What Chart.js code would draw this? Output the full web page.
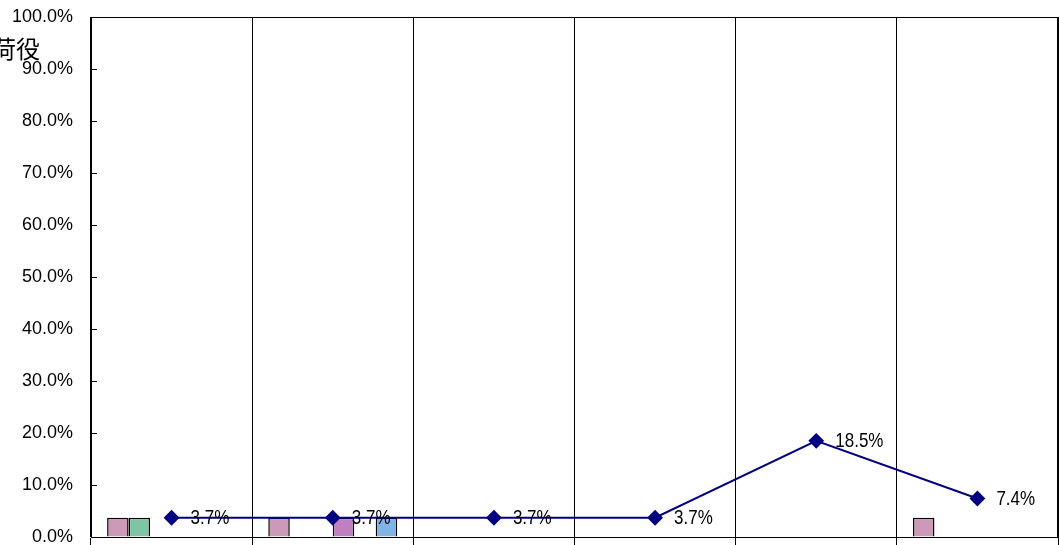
<!DOCTYPE html>
<html>
<head>
<meta charset="utf-8">
<script src="https://cdn.jsdelivr.net/npm/chart.js@4"></script>
<style>
html,body{margin:0;padding:0;background:#fff;}
#c{display:block;}
</style>
</head>
<body>
<canvas id="c" width="1060" height="545"></canvas>
<script>
// categories (x labels are cut off in the reference)
const categories = ['区分1', '区分2', '区分3', '区分4', '区分5', '区分6'];
// bar series values (fractions)
const seriesA = [0.037, 0.037, 0, 0, 0, 0.037];   // pink
const seriesB = [0.037, 0, 0, 0, 0, 0];           // green
const seriesC = [0, 0, 0, 0, 0, 0];
const seriesD = [0, 0.037, 0, 0, 0, 0];           // purple
const seriesE = [0, 0, 0, 0, 0, 0];
const seriesF = [0, 0.037, 0, 0, 0, 0];           // blue
// line series
const lineValues = [0.037, 0.037, 0.037, 0.037, 0.185, 0.074];
const lineLabels = ['3.7%', '3.7%', '3.7%', '3.7%', '18.5%', '7.4%'];
// title text
const titleText = '荷役';

const barColors = ['#CC99B8', '#80C4A6', '#99CCFF', '#C080C0', '#FFCC99', '#80B4E4'];
const barSeries = [seriesA, seriesB, seriesC, seriesD, seriesE, seriesF];

const target = { left: 91, right: 1058, top: 17, bottom: 537 };

const datasets = [{
  type: 'line',
  label: 'line',
  data: lineValues,
  borderColor: '#000080',
  backgroundColor: '#000080',
  borderWidth: 2,
  pointStyle: 'rectRot',
  pointRadius: 6.5,
  pointHoverRadius: 6.5,
  tension: 0,
  order: 0
}];
barSeries.forEach((s, i) => {
  datasets.push({
    type: 'bar',
    label: 'S' + (i + 1),
    data: s,
    backgroundColor: barColors[i],
    borderColor: '#000000',
    borderWidth: 1.5,
    categoryPercentage: 0.8,
    barPercentage: 1.0,
    order: 1
  });
});

const decor = {
  id: 'decor',
  afterDraw(chart) {
    const ctx = chart.ctx;
    const a = chart.chartArea;
    const y = chart.scales.y;
    ctx.save();
    // plot border
    ctx.strokeStyle = '#000';
    ctx.lineWidth = 1;
    ctx.strokeRect(Math.round(a.left) + 0.5, Math.round(a.top) + 0.5,
                   Math.round(a.right - a.left) - 1, Math.round(a.bottom - a.top));
    // inward ticks on y axis
    y.ticks.forEach(t => {
      const py = Math.round(y.getPixelForValue(t.value)) + 0.5;
      ctx.beginPath();
      ctx.moveTo(a.left, py);
      ctx.lineTo(a.left + 6, py);
      ctx.stroke();
    });
    // data labels for line (slightly tall text, as in the reference)
    const meta = chart.getDatasetMeta(0);
    ctx.fillStyle = '#000';
    ctx.font = '17px "Liberation Sans", Arial, sans-serif';
    ctx.textAlign = 'left';
    ctx.textBaseline = 'middle';
    const sy = 1.2;
    meta.data.forEach((pt, i) => {
      ctx.save();
      ctx.translate(pt.x + 19, pt.y + 1);
      ctx.scale(1, sy);
      ctx.fillText(lineLabels[i], 0, 0);
      ctx.restore();
    });
    // title (cut off at left)
    ctx.font = '24px "Noto Sans CJK JP", sans-serif';
    ctx.textAlign = 'right';
    ctx.fillText(titleText, 40, 49);
    ctx.restore();
  }
};

const pad = { left: 0, right: 2, top: 17, bottom: 0 };

const chart = new Chart(document.getElementById('c'), {
  data: { labels: categories, datasets },
  options: {
    responsive: false,
    animation: false,
    devicePixelRatio: 1,
    layout: { padding: pad, autoPadding: false },
    plugins: { legend: { display: false }, tooltip: { enabled: false }, title: { display: false } },
    scales: {
      x: {
        type: 'category',
        offset: true,
        grid: { offset: true, color: '#000', lineWidth: 1, drawOnChartArea: true, drawTicks: true, tickLength: 8 },
        border: { color: '#000', width: 1 },
        ticks: { display: false },
        afterFit(s) { s.height = 8; s.paddingLeft = 0; s.paddingRight = 0; s.paddingTop = 0; s.paddingBottom = 0; }
      },
      y: {
        min: 0, max: 1,
        grid: { drawOnChartArea: false, drawTicks: false },
        border: { color: '#000', width: 1 },
        ticks: {
          stepSize: 0.1,
          padding: 18,
          color: '#000',
          font: { family: '"Liberation Sans", Arial, sans-serif', size: 18 },
          callback: v => (v * 100).toFixed(1) + '%'
        },
        afterFit(s) { s.width = 91; s.paddingTop = 0; s.paddingBottom = 0; s.paddingLeft = 0; s.paddingRight = 0; }
      }
    }
  },
  plugins: [decor]
});

// nudge layout padding so the plot area lands where the reference has it
for (let k = 0; k < 4; k++) {
  const a = chart.chartArea;
  const dT = target.top - a.top;
  const dB = a.bottom - target.bottom;
  const dL = target.left - a.left;
  const dR = a.right - target.right;
  if (Math.abs(dT) < 0.5 && Math.abs(dB) < 0.5 && Math.abs(dL) < 0.5 && Math.abs(dR) < 0.5) break;
  pad.top = Math.max(0, pad.top + dT); pad.bottom = Math.max(0, pad.bottom + dB);
  pad.left = Math.max(0, pad.left + dL); pad.right = Math.max(0, pad.right + dR);
  chart.options.layout.padding = { ...pad };
  chart.update();
}
</script>
</body>
</html>
